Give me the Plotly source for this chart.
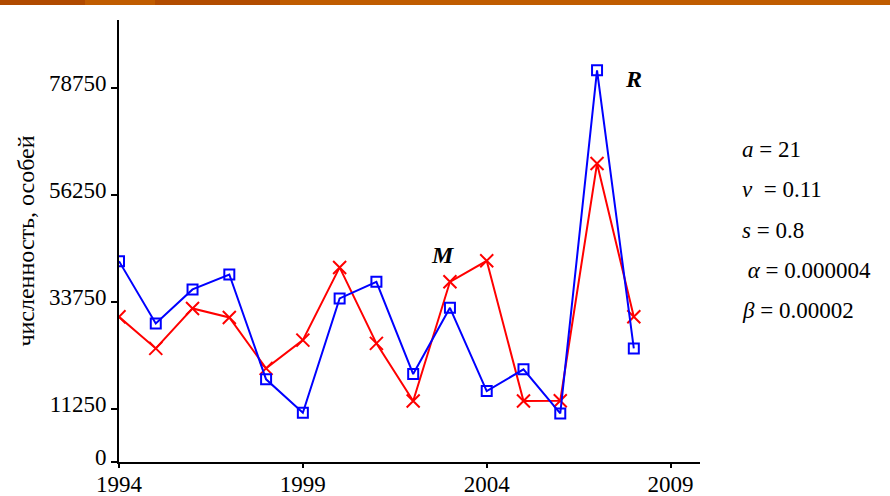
import plotly.graph_objects as go

years = list(range(1994, 2009))
R_model = [42260, 29160, 36310, 39460, 17390, 10370, 34420, 37910, 18500, 32440, 14930, 19490, 10230, 82420, 23900]
M_model = [30550, 23900, 32310, 30420, 19700, 25650, 40940, 24960, 12830, 37910, 42330, 12830, 12890, 62800, 30550]

y_ticks = [0, 11250, 33750, 56250, 78750]
x_ticks = [1994, 1999, 2004, 2009]
params = ["<i>a</i> = 21", "<i>ν</i>  = 0.11", "<i>s</i> = 0.8", " <i>α</i> = 0.000004", "<i>β</i> = 0.00002"]
param_y = [150, 190, 230, 270, 310]

FONT = "Liberation Serif"

fig = go.Figure()
fig.add_trace(go.Scatter(
    x=years, y=M_model, mode="lines+markers",
    line=dict(color="#FF0000", width=2),
    marker=dict(symbol="x-thin-open", size=13, line=dict(color="#FF0000", width=2)),
    showlegend=False))
fig.add_trace(go.Scatter(
    x=years, y=R_model, mode="lines+markers",
    line=dict(color="#0000FF", width=2),
    marker=dict(symbol="square-open", size=10, color="#0000FF", line=dict(color="#0000FF", width=2)),
    showlegend=False))

fig.add_annotation(x=2002.8, y=43500, text="<i><b>M</b></i>", showarrow=False,
                   font=dict(family=FONT, size=24, color="black"))
fig.add_annotation(x=2008.0, y=80500, text="<i><b>R</b></i>", showarrow=False,
                   font=dict(family=FONT, size=24, color="black"))

for t, py in zip(params, param_y):
    fig.add_annotation(xref="paper", yref="paper",
                       x=(740 - 119) / 581, y=(462 - py) / 442,
                       xanchor="left", yanchor="middle", text=t, showarrow=False,
                       font=dict(family=FONT, size=23, color="black"))

# orange banner at top
fig.add_shape(type="rect", xref="paper", yref="paper",
              x0=-119 / 581, x1=(890 - 119) / 581,
              y0=(462 - 5) / 442, y1=462 / 442 + 0.01,
              fillcolor="#C05C00", line=dict(width=0), layer="above")
fig.add_shape(type="rect", xref="paper", yref="paper",
              x0=-119 / 581, x1=(85 - 119) / 581,
              y0=(462 - 5) / 442, y1=462 / 442 + 0.01,
              fillcolor="#B04A00", line=dict(width=0), layer="above")
fig.add_shape(type="rect", xref="paper", yref="paper",
              x0=(155 - 119) / 581, x1=(280 - 119) / 581,
              y0=(462 - 5) / 442, y1=462 / 442 + 0.01,
              fillcolor="#B24C00", line=dict(width=0), layer="above")

fig.update_layout(
    width=890, height=496,
    margin=dict(l=119, r=190, t=20, b=34),
    paper_bgcolor="white", plot_bgcolor="white",
    font=dict(family=FONT, color="black"),
    xaxis=dict(range=[1994, 2009.8], tickvals=x_ticks, ticktext=[str(v) for v in x_ticks],
               showgrid=False, zeroline=False, showline=True, linecolor="black", linewidth=2,
               ticks="outside", ticklen=4, tickwidth=2, tickcolor="black", automargin=False,
               ticklabelstandoff=-4,
               tickfont=dict(family=FONT, size=23, color="black")),
    yaxis=dict(range=[0, 93000], tickvals=y_ticks, ticktext=[str(v) for v in y_ticks],
               showgrid=False, zeroline=False, showline=True, linecolor="black", linewidth=2,
               ticks="outside", ticklen=6, tickwidth=2, tickcolor="black", automargin=False,
               ticklabelshift=-5,
               tickfont=dict(family=FONT, size=23, color="black"),
               title=dict(text="численность, особей", standoff=8,
                          font=dict(family=FONT, size=24, color="black"))),
)

fig.write_html("out.html")
